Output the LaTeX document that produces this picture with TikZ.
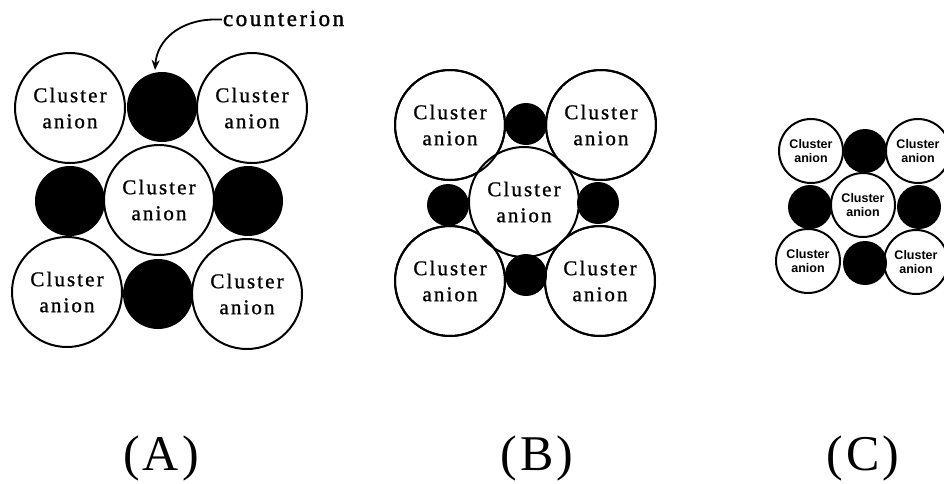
\documentclass[tikz,border=0pt]{standalone}
\usepackage{fontspec}
\setmainfont{Liberation Serif}
\newfontfamily\clfont[LetterSpace=10,FakeBold=1]{Liberation Serif}
\newfontfamily\ctfont[LetterSpace=11,FakeBold=1.5]{Liberation Serif}
\newfontfamily\lbfont[LetterSpace=6]{Liberation Serif}
\newfontfamily\smfont{Liberation Sans}
\usetikzlibrary{arrows.meta}
\begin{document}
\begin{tikzpicture}[x=1pt,y=-1pt,line width=2pt,
  anionA/.style={circle,draw=black,fill=white,minimum size=110pt,inner sep=0pt,align=center,font=\clfont\fontsize{21}{26}\selectfont},
  ionA/.style={circle,fill=black,minimum size=70pt,inner sep=0pt},
  ionB/.style={circle,fill=black,minimum size=42pt,inner sep=0pt},
  anionC/.style={circle,draw=black,fill=white,minimum size=64pt,inner sep=0pt,align=center,font=\smfont\bfseries\fontsize{12.5}{14}\selectfont},
  ionC/.style={circle,fill=black,minimum size=44pt,inner sep=0pt},
  lab/.style={font=\lbfont\fontsize{50}{54}\selectfont,inner sep=0pt,anchor=base}]
\useasboundingbox (0,0) rectangle (944,483);
\clip (0,0) rectangle (944,483);
% ---------------- (A)
\node[anionA] (aTL) at (70,108) {Cluster\\anion};
\node[anionA] (aTR) at (252,108) {Cluster\\anion};
\node[anionA] (aC) at (159,200) {Cluster\\anion};
\node[anionA] (aBL) at (67,292) {Cluster\\anion};
\node[anionA] (aBR) at (247,294) {Cluster\\anion};
\node[ionA] (aT) at (162,107) {};
\node[ionA] (aL) at (70,201) {};
\node[ionA] (aR) at (248,201) {};
\node[ionA] (aB) at (158,294) {};
\node[font=\ctfont\fontsize{23}{26}\selectfont,inner sep=0pt,anchor=base west] (ct) at (222,26) {counterion};
\coordinate (tip) at (155,70);
\draw[line width=1.8pt,-{Stealth[length=10pt,width=8pt]}] ([yshift=-1pt]ct.west) -- ++(-8,0) .. controls (180,20) and (157,40) .. (tip);
% ---------------- (B)
\node[anionA] (bTL) at (450,125) {Cluster\\anion};
\node[anionA] (bTR) at (601,125) {Cluster\\anion};
\node[anionA] (bBL) at (450,281) {Cluster\\anion};
\node[anionA] (bBR) at (600,281) {Cluster\\anion};
\node[anionA] (bC) at (524,202) {Cluster\\anion};
\draw (bTL.center) circle[radius=55pt];
\draw (bTR.center) circle[radius=55pt];
\draw (bBL.center) circle[radius=55pt];
\draw (bBR.center) circle[radius=55pt];
\node[ionB] (bT) at (526,124) {};
\node[ionB] (bL) at (448,205) {};
\node[ionB] (bR) at (598,203) {};
\node[ionB] (bB) at (526,275) {};
% ---------------- (C)
\node[anionC] (cTL) at (811,151) {Cluster\\anion};
\node[anionC] (cTR) at (918,151) {Cluster\\anion};
\node[anionC] (cC) at (863,205) {Cluster\\anion};
\node[anionC] (cBL) at (808,261) {Cluster\\anion};
\node[anionC] (cBR) at (916,262) {Cluster\\anion};
\node[ionC] (cT) at (865,151) {};
\node[ionC] (cL) at (810,207) {};
\node[ionC] (cR) at (919,207) {};
\node[ionC] (cB) at (865,263) {};
% ---------------- labels
\node[lab] (la) at (161,470) {(A)};
\node[lab] (lb) at (537,470) {(B)};
\node[lab] (lc) at (863,470) {(C)};
\end{tikzpicture}
\end{document}
